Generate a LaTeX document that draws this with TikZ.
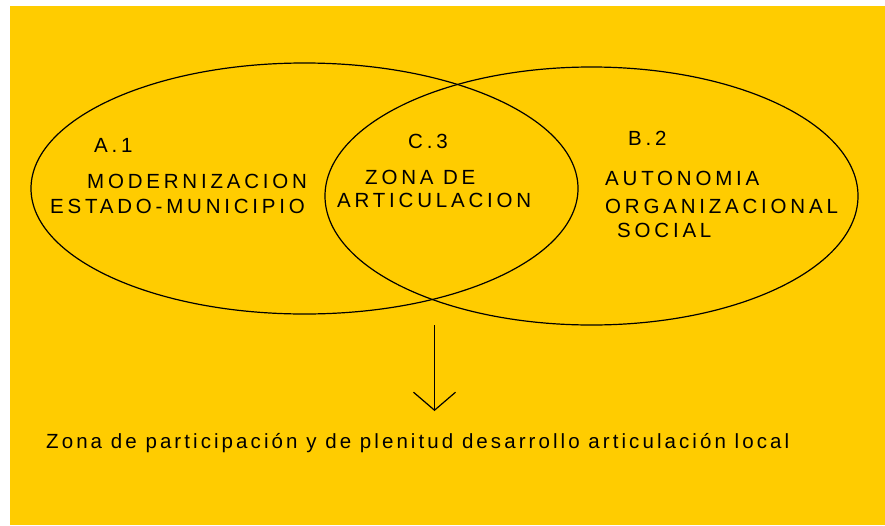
\documentclass[tikz,border=0pt]{standalone}
\usepackage{fontspec}
\setmainfont{Liberation Sans}
\usetikzlibrary{shapes.geometric,arrows.meta}
\definecolor{bgyellow}{RGB}{255,204,0}
\tikzset{
  venn/.style={ellipse, draw=black, line width=1.2pt, inner sep=0pt},
  capslabel/.style={anchor=base west, inner sep=0pt, font=\fontsize{20.5}{24}\selectfont\addfontfeatures{LetterSpace=18.5}},
  lowlabel/.style={anchor=base west, inner sep=0pt, font=\fontsize{20.5}{24}\selectfont\addfontfeatures{LetterSpace=15}},
  flow/.style={line width=1.2pt, -{Straight Barb[length=18pt, width=42pt, line width=1.2pt]}}
}
\begin{document}
\begin{tikzpicture}[x=1pt, y=-1pt]
\useasboundingbox (0,0) rectangle (885,525);
\fill[bgyellow] (10,6) rectangle (885,525);
\node[venn, minimum width=547pt, minimum height=251pt] (left) at (304.5,188.5) {};
\node[venn, minimum width=533pt, minimum height=258pt] (right) at (591.5,196) {};
\node[capslabel] (a1) at (94,152) {A.1};
\node[capslabel] (mod) at (87,188) {MODERNIZACION};
\node[capslabel] (est) at (50,213) {ESTADO-MUNICIPIO};
\node[capslabel] (c3) at (408,148) {C.3};
\node[capslabel] (zona) at (365,184) {ZONA DE};
\node[capslabel] (art) at (337,207) {ARTICULACION};
\node[capslabel] (b2) at (628,145) {B.2};
\node[capslabel] (auto) at (605,185) {AUTONOMIA};
\node[capslabel] (org) at (605,213) {ORGANIZACIONAL};
\node[capslabel] (soc) at (617,237) {SOCIAL};
\node[lowlabel] (bottom) at (46,448) {Zona de participación y de plenitud desarrollo articulación local};
\coordinate (arrtop) at (434.5,325);
\coordinate (arrtip) at (434.5,411);
\draw[flow] (arrtop) -- (arrtip);
\end{tikzpicture}
\end{document}
